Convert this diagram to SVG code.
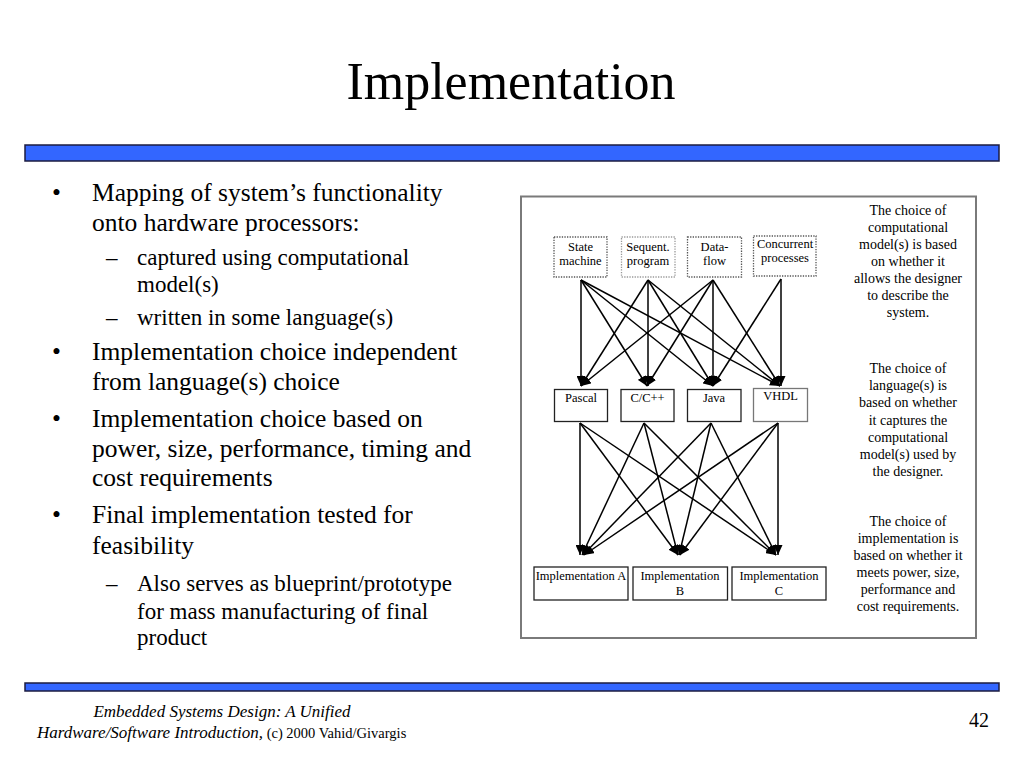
<svg xmlns="http://www.w3.org/2000/svg" width="1024" height="768" viewBox="0 0 1024 768">
<style>
text{font-family:"Liberation Serif","Times New Roman",serif;fill:#000}
.title{font-size:52px;text-anchor:middle}
.b1{font-size:25.5px}
.b2{font-size:23px}
.note{font-size:14px;text-anchor:middle}
.lbl{font-size:12.5px;text-anchor:middle}
.bar{fill:#3366FF;stroke:#1c1c40;stroke-width:1.5}
.dot{fill:#fff;stroke:#555;stroke-width:1.3;stroke-dasharray:1.3 1.3}
.box{fill:#fff;stroke:#222;stroke-width:1.3}
.conn line{stroke:#000;stroke-width:1.5;marker-end:url(#ah)}
</style>
<defs>
<marker id="ah" markerUnits="userSpaceOnUse" markerWidth="11" markerHeight="9" refX="10" refY="4.5" orient="auto">
<path d="M0,0 L10,4.5 L0,9 z" fill="#000"/>
</marker>
</defs>
<rect width="1024" height="768" fill="#fff"/>
<text class="title" x="511" y="99">Implementation</text>
<rect class="bar" x="25" y="145" width="974" height="16"/>
<rect class="bar" x="25" y="683" width="974" height="8"/>

<g id="bullets">
<text class="b1" x="52" y="201">•</text>
<text class="b1" x="92" y="201">Mapping of system’s functionality</text>
<text class="b1" x="92" y="231">onto hardware processors:</text>
<text class="b2" x="106" y="265">–</text>
<text class="b2" x="137" y="265">captured using computational</text>
<text class="b2" x="137" y="292">model(s)</text>
<text class="b2" x="106" y="325">–</text>
<text class="b2" x="137" y="325">written in some language(s)</text>
<text class="b1" x="52" y="360">•</text>
<text class="b1" x="92" y="360">Implementation choice independent</text>
<text class="b1" x="92" y="390">from language(s) choice</text>
<text class="b1" x="52" y="427">•</text>
<text class="b1" x="92" y="427">Implementation choice based on</text>
<text class="b1" x="92" y="457">power, size, performance, timing and</text>
<text class="b1" x="92" y="486">cost requirements</text>
<text class="b1" x="52" y="523">•</text>
<text class="b1" x="92" y="523">Final implementation tested for</text>
<text class="b1" x="92" y="554">feasibility</text>
<text class="b2" x="106" y="591">–</text>
<text class="b2" x="137" y="591">Also serves as blueprint/prototype</text>
<text class="b2" x="137" y="619">for mass manufacturing of final</text>
<text class="b2" x="137" y="645">product</text>
</g>

<rect id="frame" x="521" y="196.5" width="455" height="441.5" fill="none" stroke="#7a7a7a" stroke-width="2"/>

<g id="notes">
<text class="note" x="908" y="215">The choice of</text>
<text class="note" x="908" y="232">computational</text>
<text class="note" x="908" y="249">model(s) is based</text>
<text class="note" x="908" y="266">on whether it</text>
<text class="note" x="908" y="283">allows the designer</text>
<text class="note" x="908" y="300">to describe the</text>
<text class="note" x="908" y="317">system.</text>
<text class="note" x="908" y="373">The choice of</text>
<text class="note" x="908" y="390">language(s) is</text>
<text class="note" x="908" y="407">based on whether</text>
<text class="note" x="908" y="425">it captures the</text>
<text class="note" x="908" y="442">computational</text>
<text class="note" x="908" y="459">model(s) used by</text>
<text class="note" x="908" y="476">the designer.</text>
<text class="note" x="908" y="526">The choice of</text>
<text class="note" x="908" y="543">implementation is</text>
<text class="note" x="908" y="560">based on whether it</text>
<text class="note" x="908" y="577">meets power, size,</text>
<text class="note" x="908" y="594">performance and</text>
<text class="note" x="908" y="611">cost requirements.</text>
</g>

<g class="conn" id="connectors">
<line x1="581" y1="280" x2="581" y2="386"/>
<line x1="581" y1="280" x2="647" y2="386"/>
<line x1="581" y1="280" x2="713" y2="386"/>
<line x1="581" y1="280" x2="780" y2="386"/>
<line x1="648" y1="280" x2="581" y2="386"/>
<line x1="648" y1="280" x2="648" y2="386"/>
<line x1="648" y1="280" x2="713" y2="386"/>
<line x1="648" y1="280" x2="780" y2="386"/>
<line x1="713" y1="280" x2="581" y2="386"/>
<line x1="713" y1="280" x2="647" y2="386"/>
<line x1="713" y1="280" x2="713" y2="386"/>
<line x1="713" y1="280" x2="780" y2="386"/>
<line x1="781" y1="279" x2="713" y2="386"/>
<line x1="781" y1="279" x2="781" y2="386"/>
<line x1="580" y1="423" x2="580" y2="555"/>
<line x1="580" y1="423" x2="678" y2="555"/>
<line x1="580" y1="423" x2="776" y2="555"/>
<line x1="644" y1="423" x2="582" y2="555"/>
<line x1="644" y1="423" x2="678" y2="555"/>
<line x1="644" y1="423" x2="776" y2="555"/>
<line x1="711" y1="423" x2="583" y2="555"/>
<line x1="711" y1="423" x2="679" y2="555"/>
<line x1="711" y1="423" x2="776" y2="555"/>
<line x1="778" y1="423" x2="584" y2="555"/>
<line x1="778" y1="423" x2="680" y2="555"/>
<line x1="778" y1="423" x2="778" y2="555"/>
</g>

<g id="state-machine"><rect class="dot" x="554" y="237" width="53" height="40"/><text class="lbl" x="580.5" y="251">State</text><text class="lbl" x="580.5" y="265">machine</text></g>
<g id="sequent-program"><rect class="dot" x="621.5" y="237" width="53.5" height="40" style="stroke:#999"/><text class="lbl" x="648" y="251">Sequent.</text><text class="lbl" x="648" y="265">program</text></g>
<g id="data-flow"><rect class="dot" x="687.5" y="237" width="54" height="40"/><text class="lbl" x="714.5" y="251">Data-</text><text class="lbl" x="714.5" y="265">flow</text></g>
<g id="concurrent-processes"><rect class="dot" x="753.5" y="236" width="62.5" height="40"/><text class="lbl" x="785" y="248">Concurrent</text><text class="lbl" x="785" y="262">processes</text></g>

<g id="pascal"><rect class="box" x="554.5" y="389.5" width="53" height="32"/><text class="lbl" x="581" y="402">Pascal</text></g>
<g id="cpp"><rect class="box" x="621" y="389.5" width="53" height="32"/><text class="lbl" x="647.5" y="402">C/C++</text></g>
<g id="java"><rect class="box" x="687.5" y="389.5" width="53.5" height="32"/><text class="lbl" x="714" y="402">Java</text></g>
<g id="vhdl"><rect class="box" x="753.5" y="388.5" width="54" height="33" style="stroke:#777"/><text class="lbl" x="780.5" y="400">VHDL</text></g>

<g id="impl-a"><rect class="box" x="534" y="567" width="94" height="33"/><text class="lbl" x="581" y="580">Implementation A</text></g>
<g id="impl-b"><rect class="box" x="633" y="567" width="94.5" height="33"/><text class="lbl" x="680" y="580">Implementation</text><text class="lbl" x="680" y="595">B</text></g>
<g id="impl-c"><rect class="box" x="732" y="567" width="94" height="33"/><text class="lbl" x="779" y="580">Implementation</text><text class="lbl" x="779" y="595">C</text></g>

<g id="footer">
<text x="222" y="717" font-size="17" font-style="italic" text-anchor="middle">Embedded Systems Design: A Unified</text>
<text x="37" y="738" font-size="17"><tspan font-style="italic">Hardware/Software Introduction,</tspan><tspan font-size="14.5"> (c) 2000 Vahid/Givargis</tspan></text>
<text x="989" y="727" font-size="20" text-anchor="end">42</text>
</g>
</svg>
